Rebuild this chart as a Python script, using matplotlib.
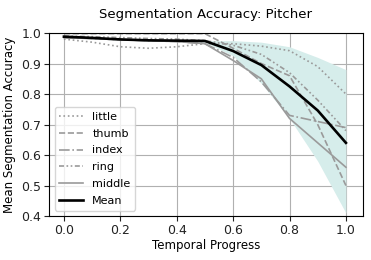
import matplotlib
matplotlib.use('Agg')
import matplotlib.pyplot as plt
import numpy as np

# Temporal progress samples
progress = [0.0, 0.1, 0.2, 0.3, 0.4, 0.5, 0.6, 0.7, 0.8, 0.9, 1.0]

# Per-finger accuracy
little = [0.980, 0.970, 0.955, 0.950, 0.955, 0.965, 0.965, 0.957, 0.942, 0.890, 0.800]
thumb = [0.998, 0.998, 0.998, 0.998, 0.998, 0.998, 0.950, 0.900, 0.860, 0.700, 0.500]
index = [0.985, 0.982, 0.978, 0.975, 0.972, 0.965, 0.920, 0.840, 0.730, 0.710, 0.690]
ring = [0.990, 0.988, 0.985, 0.982, 0.980, 0.975, 0.960, 0.930, 0.870, 0.780, 0.680]
middle = [0.985, 0.982, 0.978, 0.975, 0.972, 0.965, 0.910, 0.850, 0.720, 0.640, 0.560]

mean = [0.988, 0.984, 0.979, 0.976, 0.975, 0.974, 0.941, 0.895, 0.825, 0.746, 0.640]
band_low = [0.985, 0.981, 0.977, 0.974, 0.972, 0.970, 0.925, 0.835, 0.720, 0.580, 0.410]
band_high = [0.990, 0.987, 0.982, 0.979, 0.977, 0.975, 0.975, 0.970, 0.955, 0.920, 0.880]

fig = plt.figure(figsize=(3.71, 2.60), dpi=100)
ax = fig.add_axes([0.132, 0.169, 0.846, 0.704])

ax.fill_between(progress, band_low, band_high, color='#d6edeb', lw=0, zorder=1)

gray = '#9a9a9a'
ax.plot(progress, little, color=gray, ls=':', lw=1.2, label='little', zorder=2)
ax.plot(progress, thumb, color=gray, ls='--', lw=1.2, label='thumb', zorder=2)
ax.plot(progress, index, color=gray, ls='-.', lw=1.2, label='index', zorder=2)
ax.plot(progress, ring, color=gray, ls=(0, (3, 1.5, 1, 1.5, 1, 1.5)), lw=1.2, label='ring', zorder=2)
ax.plot(progress, middle, color=gray, ls='-', lw=1.2, label='middle', zorder=2)
ax.plot(progress, mean, color='black', lw=1.9, label='Mean', zorder=3)

ax.set_ylim(0.4, 1.0)
ax.set_xlim(-0.053, 1.06)
ax.set_xticks([0.0, 0.2, 0.4, 0.6, 0.8, 1.0])
ax.grid(True, color='#b0b0b0', lw=0.8, zorder=0)
ax.set_axisbelow(True)
ax.tick_params(labelsize=9, colors='#222222', pad=2)
ax.set_xlabel('Temporal Progress', fontsize=8.5, labelpad=2)
ax.set_ylabel('Mean Segmentation Accuracy', fontsize=8.5, labelpad=4)
ax.set_title('Segmentation Accuracy: Pitcher', fontsize=9.5, pad=11)
ax.legend(loc='lower left', fontsize=8, handlelength=2.2, borderaxespad=0.5,
          labelspacing=0.62)

fig.savefig('out.png', dpi=100)
